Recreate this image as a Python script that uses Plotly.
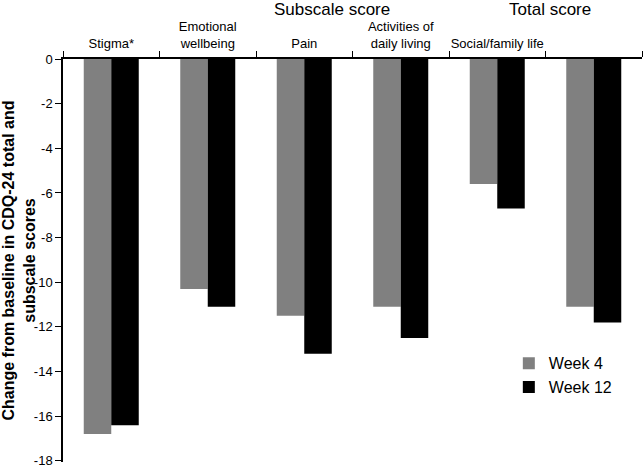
import plotly.graph_objects as go

# CDQ-24 : variation depuis la baseline, par sous-échelle et score total
categories = ["Stigma*", "Emotional<br>wellbeing", "Pain", "Activities of<br>daily living",
              "Social/family life", "Total score "]
week4 = [-16.8, -10.3, -11.5, -11.1, -5.6, -11.1]
week12 = [-16.4, -11.1, -13.2, -12.5, -6.7, -11.8]
y_ticks = [0, -2, -4, -6, -8, -10, -12, -14, -16, -18]
y_ticktext = ["0", "-2", "-4", "-6", "-8", "-10", "-12", "-14", "-16", "-18"]
x_ticktext = ["Stigma*", "Emotional<br>wellbeing", "Pain", "Activities of<br>daily living",
              "Social/family life", ""]

police = "Liberation Sans, Arial, sans-serif"

fig = go.Figure()
fig.add_trace(go.Bar(x=categories, y=week4, name="Week 4",
                     marker=dict(color="#808080", line=dict(width=0))))
fig.add_trace(go.Bar(x=categories, y=week12, name="Week 12",
                     marker=dict(color="#000000", line=dict(width=0))))

fig.update_layout(
    width=644, height=467,
    margin=dict(l=63, r=2, t=59, b=5),
    plot_bgcolor="white", paper_bgcolor="white",
    barmode="group", bargap=0.43, bargroupgap=0,
    font=dict(family=police, size=12, color="black"),
    legend=dict(x=0.77, y=0.287, xanchor="left", yanchor="top",
                font=dict(size=16), bgcolor="rgba(0,0,0,0)",
                itemwidth=30, tracegroupgap=0),
    showlegend=True,
)

fig.update_xaxes(
    side="top", tickson="boundaries", ticks="outside", ticklen=6,
    tickvals=categories, ticktext=x_ticktext, tickangle=0, automargin=False,
    ticklabelstandoff=4,
    showline=True, linecolor="black", linewidth=1.5,
    tickcolor="black", tickfont=dict(size=13),
)
fig.update_yaxes(
    range=[-18.05, 0], tickvals=y_ticks, ticktext=y_ticktext, automargin=False,
    ticklabeloverflow="allow",
    ticks="outside", ticklen=6, tickcolor="black",
    showline=True, linecolor="black", linewidth=1.5,
    showgrid=False, zeroline=False, tickfont=dict(size=13),
    title=dict(text="<b>Change from baseline in CDQ-24 total and<br>subscale scores</b>",
               font=dict(size=16), standoff=6),
)

# En-têtes au-dessus des catégories
fig.add_annotation(text="Subscale score", xref="paper", yref="paper",
                   x=0.465, y=1.0, yshift=50, showarrow=False,
                   font=dict(size=17), yanchor="middle")
fig.add_annotation(text="Total score", xref="paper", yref="paper",
                   x=0.915, y=1.0, yshift=50, showarrow=False,
                   font=dict(size=17), yanchor="middle")

# pas de marge de 8 px autour du graphique dans la page, pas de barre d'outils
fig.write_html("out.html", config={"displayModeBar": False},
               post_script="document.body.style.margin='0';")
